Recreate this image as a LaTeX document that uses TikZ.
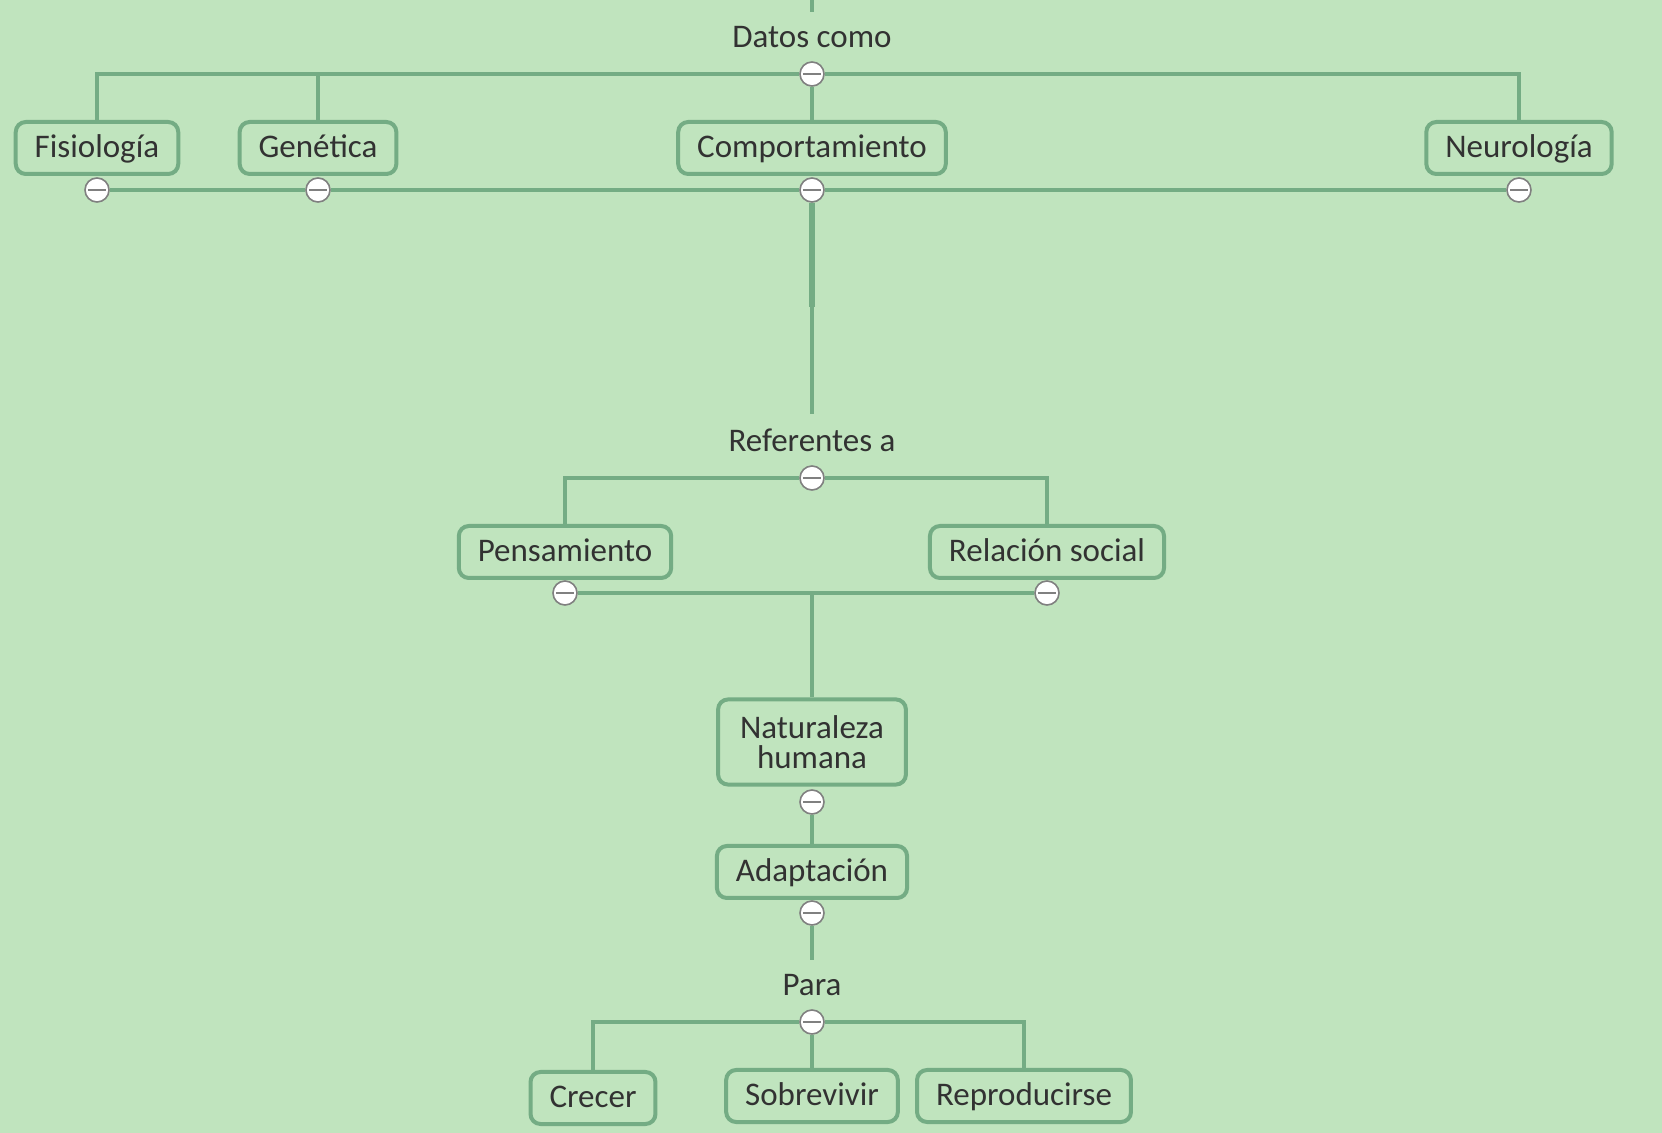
\documentclass[tikz,border=0pt]{standalone}
\usepackage{fontspec}
\setmainfont{Carlito}
\usepackage{xcolor}
\definecolor{mapbg}{RGB}{192,228,190}
\definecolor{mapline}{RGB}{116,172,132}
\definecolor{mapink}{RGB}{50,50,50}
\definecolor{knobgray}{RGB}{128,128,128}
\tikzset{
    concept/.style={draw=mapline, line width=2pt, rounded corners=5pt, fill=mapbg,
        text=mapink, inner xsep=9.5pt, inner ysep=5.5pt, minimum height=26pt,
        text height=12.5pt, text depth=2.5pt,
        align=center, font=\fontsize{16.5}{15}\selectfont},
    linkword/.style={text=mapink, inner xsep=2pt, inner ysep=7pt,
        font=\fontsize{16.5}{15}\selectfont},
    toggle/.style={circle, draw=knobgray, line width=0.8pt, fill=white,
        minimum size=12pt, inner sep=0pt,
        path picture={\draw[knobgray, line width=0.8pt]
            ([xshift=-4.6pt]path picture bounding box.center) --
            ([xshift=4.6pt]path picture bounding box.center);}},
    wire/.style={draw=mapline, line width=1.8pt}
}

\begin{document}
\begin{tikzpicture}[x=0.5pt, y=-0.5pt]
    \fill[mapbg] (0, 0) rectangle (1662, 1133);
    \useasboundingbox (0, 0) rectangle (1662, 1133);

    \coordinate (top) at (812, 0);
    \node[linkword] (datos) at (812, 37) {Datos como};
    \node[toggle] (tDatos) at (812, 74) {};
    \node[concept] (fisio) at (97, 148) {Fisiología};
    \node[concept] (genet) at (318, 148) {Genética};
    \node[concept] (comport) at (812, 148) {Comportamiento};
    \node[concept] (neuro) at (1519, 148) {Neurología};
    \node[toggle] (tFisio) at (97, 190) {};
    \node[toggle] (tGenet) at (318, 190) {};
    \node[toggle] (tComport) at (812, 190) {};
    \node[toggle] (tNeuro) at (1519, 190) {};
    \coordinate (bend) at (812, 307);

    \node[linkword] (refer) at (812, 440) {Referentes a};
    \node[toggle] (tRefer) at (812, 478) {};
    \node[concept] (pensa) at (565, 552) {Pensamiento};
    \node[concept] (social) at (1047, 552) {Relación social};
    \node[toggle] (tPensa) at (565, 593) {};
    \node[toggle] (tSocial) at (1047, 593) {};
    \coordinate (hub) at (812, 593);
    \coordinate (hubend) at (812, 606);

    \node[concept, text height=, text depth=, inner xsep=11pt, inner ysep=8pt]
        (natur) at (812, 742) {Naturaleza\\humana};
    \node[toggle] (tNatur) at (812, 802) {};
    \node[concept] (adapt) at (812, 872) {Adaptación};
    \node[toggle] (tAdapt) at (812, 913) {};

    \node[linkword] (para) at (812, 985) {Para};
    \node[toggle] (tPara) at (812, 1022) {};
    \node[concept] (crecer) at (593, 1098) {Crecer};
    \node[concept] (sobre) at (812, 1096) {Sobrevivir};
    \node[concept] (repro) at (1024, 1096) {Reproducirse};

    \draw[wire]
    (top) -- (datos)
    (tDatos) -| (fisio)
    (tDatos) -| (genet)
    (tDatos) -- (comport)
    (tDatos) -| (neuro)
    (tFisio) -- (tGenet)
    (tGenet) -- (tComport)
    (tComport) -- (tNeuro)
    (bend) -- (refer)
    (tRefer) -| (pensa)
    (tRefer) -| (social)
    (tPensa) -- (tSocial)
    (hub) -- (natur)
    (tNatur) -- (adapt)
    (tAdapt) -- (para)
    (tPara) -| (crecer)
    (tPara) -- (sobre)
    (tPara) -| (repro);
    \draw[wire, line width=2.6pt] (tComport) -- (bend);
    \draw[wire, line width=2.4pt] (hub) -- (hubend);
\end{tikzpicture}
\end{document}
